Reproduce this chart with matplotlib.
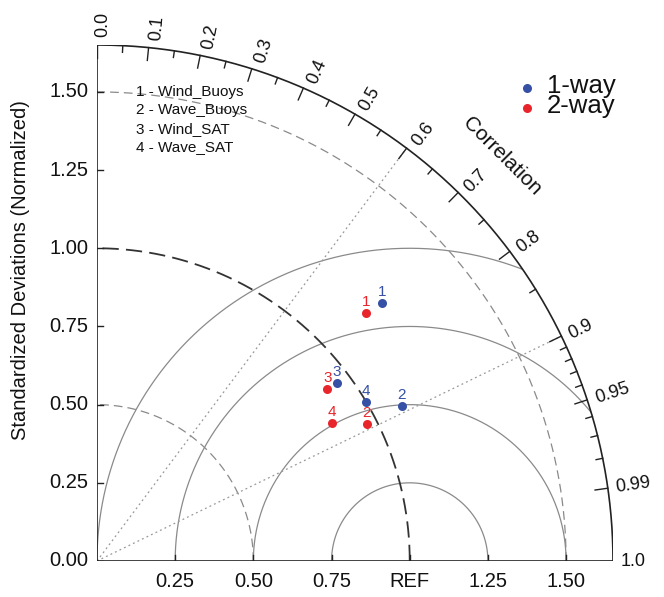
import numpy as np
import matplotlib
matplotlib.use("Agg")
import matplotlib.pyplot as plt
from matplotlib.patches import Wedge

plt.rcParams['font.family'] = ['Liberation Sans', 'DejaVu Sans']

# data: normalized std dev and correlation for each case
cases = ["1", "2", "3", "4"]
case_names = ["Wind_Buoys", "Wave_Buoys", "Wind_SAT", "Wave_SAT"]
std_1way = [1.230, 1.093, 0.955, 0.998]
cor_1way = [0.742, 0.892, 0.802, 0.861]
std_2way = [1.169, 0.967, 0.919, 0.872]
cor_2way = [0.735, 0.892, 0.802, 0.862]
runs = ["1-way", "2-way"]
colors = ["#3550a5", "#e8252b"]

cor_labels = ["0.0", "0.1", "0.2", "0.3", "0.4", "0.5", "0.6", "0.7", "0.8",
              "0.9", "0.95", "0.99", "1.0"]
cor_minor = [0.05, 0.15, 0.25, 0.35, 0.45, 0.55, 0.65, 0.75, 0.85,
             0.91, 0.92, 0.93, 0.94, 0.96, 0.97, 0.98]
std_ticks = [0.0, 0.25, 0.5, 0.75, 1.0, 1.25, 1.5]
x_labels = ["0.25", "0.50", "0.75", "REF", "1.25", "1.50"]
y_labels = ["0.00", "0.25", "0.50", "0.75", "1.00", "1.25", "1.50"]
rms_radii = [0.25, 0.5, 0.75, 1.0]

R = 1.65
W, H = 664, 597
X0, Y0, X1, Y1 = 97, 561, 613, 45  # pixel box of the quadrant
k = (X1 - X0) / R  # pixels per unit

fig = plt.figure(figsize=(W / 100, H / 100), dpi=100)
ax = fig.add_axes([X0 / W, (H - Y0) / H, (X1 - X0) / W, (Y0 - Y1) / H])
ax.set_xlim(0, R)
ax.set_ylim(0, R)
ax.axis('off')

def px(x, y):
    return (x - X0) / k, (Y0 - y) / k

clip = Wedge((0, 0), R, 0, 90, transform=ax.transData)

t = np.linspace(0, np.pi, 1500)
# centred RMS circles
for r in rms_radii:
    ln, = ax.plot(1 + r * np.cos(t), r * np.sin(t), color='#8a8a8a', lw=0.9)
    ln.set_clip_path(clip)

q = np.linspace(0, np.pi / 2, 500)
# std dev arcs
for r in [0.5, 1.5]:
    ax.plot(r * np.cos(q), r * np.sin(q), color='#8a8a8a', lw=0.9,
            dashes=(7, 4))
ax.plot(np.cos(q), np.sin(q), color='#333333', lw=1.3, dashes=(9, 4))

# dotted radial lines
for c in [0.6, 0.9]:
    a = np.arccos(c)
    ax.plot([0, R * np.cos(a)], [0, R * np.sin(a)], color='#999999', lw=0.9,
            ls=(0, (1.5, 2.5)))

# frame
ax.plot(R * np.cos(q), R * np.sin(q), color='#222222', lw=1.2)
ax.plot([0, 0], [0, R], color='#222222', lw=1.2)
ax.plot([0, R], [0, 0], color='#222222', lw=1.2)

# correlation ticks
for lab in cor_labels:
    a = np.arccos(float(lab))
    ax.plot([R * np.cos(a), 0.975 * R * np.cos(a)],
            [R * np.sin(a), 0.975 * R * np.sin(a)], color='#222222', lw=1.0)
    rr = R + 8 / k
    sh = 6 * np.sin(a) / k
    xa = rr * np.cos(a) + sh * np.sin(a)
    ya = rr * np.sin(a) - sh * np.cos(a)
    ax.text(xa, ya, lab, rotation=np.degrees(a), rotation_mode='anchor',
            ha='left', va='center', fontsize=13, color='#111111')
for c in cor_minor:
    a = np.arccos(c)
    ax.plot([R * np.cos(a), 0.987 * R * np.cos(a)],
            [R * np.sin(a), 0.987 * R * np.sin(a)], color='#222222', lw=1.0)

# axis ticks and labels
tl = 6 / k
for v, lab in zip(std_ticks, y_labels):
    ax.plot([0, tl], [v, v], color='#222222', lw=1.0)
    ax.text(-9 / k, v, lab, ha='right', va='center', fontsize=14.5,
            color='#111111')
for v, lab in zip(std_ticks[1:], x_labels):
    ax.plot([v, v], [0, tl], color='#222222', lw=1.0)
    ax.text(v, -11 / k, lab, ha='center', va='top', fontsize=14.5,
            color='#111111')

ax.text(*px(20, 270), "Standardized Deviations (Normalized)", rotation=90,
        ha='center', va='center', fontsize=14.5, color='#111111')
ax.text(*px(502, 156), "Correlation", rotation=-45, ha='center',
        va='center', fontsize=15, color='#111111')

# case list
for i, (c, nm) in enumerate(zip(cases, case_names)):
    ax.text(*px(136, 92 + 18.4 * i), f"{c} - {nm}", ha='left', va='center',
            fontsize=11, color='#111111')

# points
for std, cor, col in [(std_1way, cor_1way, colors[0]),
                      (std_2way, cor_2way, colors[1])]:
    std = np.array(std)
    ang = np.arccos(np.array(cor))
    xs, ys = std * np.cos(ang), std * np.sin(ang)
    ax.plot(xs, ys, 'o', color=col, ms=6.5, mec='none', zorder=5)
    for x, y, c in zip(xs, ys, cases):
        ax.text(x, y + 4 / k, c, ha='center', va='bottom', fontsize=11,
                color=col, zorder=6)

# legend
for i, (nm, col) in enumerate(zip(runs, colors)):
    ax.plot(*px(527, 88 + 19.5 * i), 'o', color=col, ms=6.5, mec='none',
            clip_on=False)
    ax.text(*px(547, 86 + 19.5 * i), nm, ha='left', va='center',
            fontsize=18.5, color='#111111')

fig.savefig("out.png", dpi=100)
